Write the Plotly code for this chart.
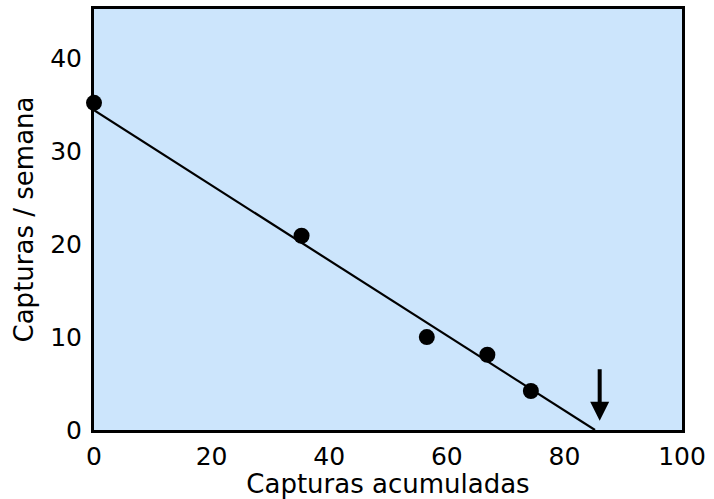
import plotly.graph_objects as go

# Data
capturas_acumuladas = [0, 35.3, 56.6, 66.9, 74.3]
capturas_semana = [35.2, 20.9, 10.0, 8.1, 4.2]
fit_intercept = 34.4      # capturas/semana at x=0
fit_x_intercept = 85.2    # estimated population size
arrow_x = 86
x_ticks = [0, 20, 40, 60, 80, 100]
y_ticks = [0, 10, 20, 30, 40]

fig = go.Figure()
fig.add_trace(go.Scatter(
    x=[0, fit_x_intercept], y=[fit_intercept, 0], mode="lines",
    line=dict(color="black", width=2.2), showlegend=False, cliponaxis=False))
fig.add_trace(go.Scatter(
    x=capturas_acumuladas, y=capturas_semana, mode="markers",
    marker=dict(color="black", size=16), showlegend=False, cliponaxis=False))

fig.add_annotation(x=arrow_x, y=1.0, ax=arrow_x, ay=6.7, xref="x", yref="y",
                   axref="x", ayref="y", showarrow=True, arrowhead=2,
                   arrowsize=0.95, arrowwidth=4, arrowcolor="black", text="")

fam = "DejaVu Sans, Verdana, sans-serif"
tick_font = dict(family=fam, size=25, color="black")
title_font = dict(family=fam, size=26, color="black")
fig.update_layout(
    width=714, height=499,
    margin=dict(l=94, r=32, t=9, b=69),
    paper_bgcolor="white", plot_bgcolor="#cce5fc",
    font=tick_font,
    xaxis=dict(range=[0, 100], tickvals=x_ticks, showgrid=False, zeroline=False,
               showline=True, linecolor="black", linewidth=3, mirror=True,
               ticks="", ticklabelstandoff=2, automargin=False,
               tickfont=tick_font,
               title=dict(text="Capturas acumuladas", standoff=0, font=title_font)),
    yaxis=dict(range=[0, 45.3], tickvals=y_ticks, showgrid=False, zeroline=False,
               showline=True, linecolor="black", linewidth=3, mirror=True,
               ticks="", ticklabelstandoff=4, automargin=False,
               tickfont=tick_font,
               title=dict(text="Capturas / semana", standoff=10, font=title_font)),
)
fig.write_html("out.html", config={"displayModeBar": False},
               post_script="document.body.style.margin='0';document.body.style.overflow='hidden';")
